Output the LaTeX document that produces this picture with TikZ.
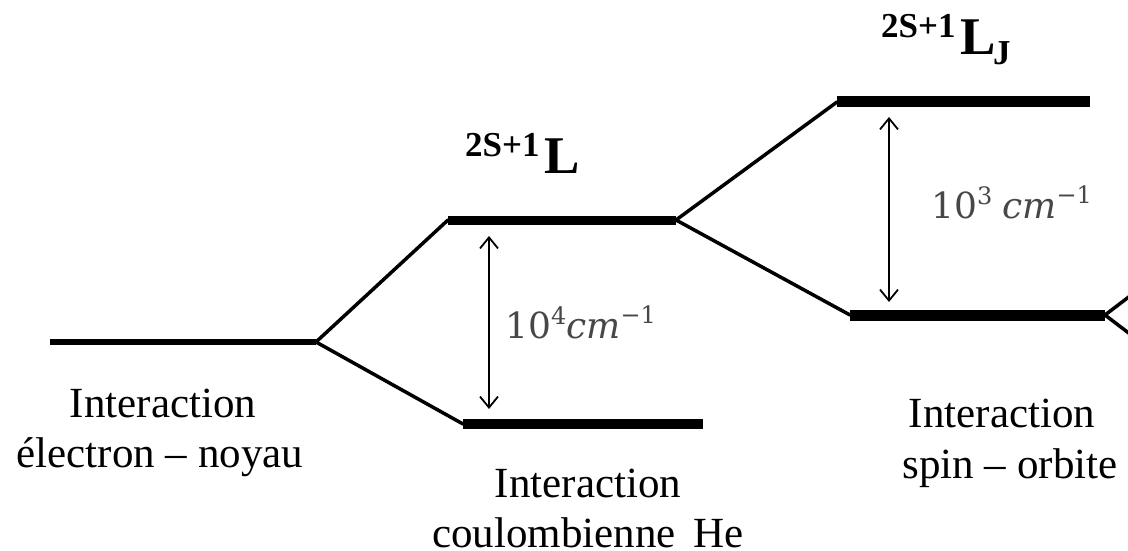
\documentclass[tikz,border=0pt]{standalone}
\usepackage{fontspec}
\setmainfont{Liberation Serif}
\newfontfamily\dvs{DejaVu Serif}
\usetikzlibrary{arrows.meta}
\begin{document}
\begin{tikzpicture}[x=1pt,y=-1pt,
  lvl/.style={line width=#1, line cap=butt},
  branch/.style={line width=3.5pt, line cap=round},
  gap/.style={line width=1.8pt, {Straight Barb[length=11pt,width=18pt]}-{Straight Barb[length=11pt,width=18pt]}},
  lab/.style={inner sep=0pt, anchor=base, font=\fontsize{43}{50}\selectfont},
  sup/.style={inner sep=0pt, anchor=base west, font=\fontsize{35}{35}\selectfont\bfseries},
  big/.style={inner sep=0pt, anchor=base west, font=\fontsize{53}{53}\selectfont\bfseries},
  num/.style={inner sep=0pt, anchor=base west, text=black!72, font=\dvs\fontsize{36}{36}\selectfont}]
\useasboundingbox (0,0) rectangle (1128,551);
\clip (0,0) rectangle (1128,551);
% level coordinates
\coordinate (g0) at (50,342);  \coordinate (g1) at (316,342);
\coordinate (a0) at (448,220); \coordinate (a1) at (676,220);
\coordinate (b0) at (463,424); \coordinate (b1) at (703,424);
\coordinate (c0) at (837,102); \coordinate (c1) at (1090,102);
\coordinate (d0) at (850,315); \coordinate (d1) at (1105,315);
\coordinate (e1) at (1130,296); \coordinate (e2) at (1130,334);
% levels
\draw[lvl=6pt] (g0) -- (g1);
\draw[lvl=9pt] (a0) -- (a1);
\draw[lvl=10pt] (b0) -- (b1);
\draw[lvl=11pt] (c0) -- (c1);
\draw[lvl=11pt] (d0) -- (d1);
% branches
\draw[branch] (g1) -- (a0);
\draw[branch] (g1) -- (b0);
\draw[branch] (a1) -- (c0);
\draw[branch] (a1) -- (d0);
\draw[branch] (d1) -- (e1);
\draw[branch] (d1) -- (e2);
% gaps
\coordinate (p1) at (489,236); \coordinate (q1) at (489,409);
\coordinate (p2) at (889,117); \coordinate (q2) at (889,302);
\draw[gap] (p1) -- (q1);
\draw[gap] (p2) -- (q2);
% gap labels
\node[num] (n4) at (505,338) {10\raisebox{14pt}{\fontsize{24}{24}\selectfont 4}\textit{cm}\raisebox{15pt}{\fontsize{24}{24}\selectfont −1}};
\node[num] (n3) at (931,218) {10\raisebox{14pt}{\fontsize{24}{24}\selectfont 3}\hspace{10pt}\textit{cm}\raisebox{15pt}{\fontsize{24}{24}\selectfont −1}};
% term symbols
\node[sup] (s1) at (465,156) {2S+1};
\node[big] (L1) at (544,173) {L};
\node[sup] (s2) at (881,38) {2S+1};
\node[big] (L2) at (960,55) {L};
\node[sup] (J2) at (993,65) {J};
% interaction labels
\node[lab] (t1a) at (163,417) {Interaction};
\node[lab] (t1b) at (160,467) {électron – noyau};
\node[lab] (t2a) at (588,497) {Interaction};
\node[lab] (t2b) at (588,547) {coulombienne\, He};
\node[lab] (t3a) at (1002,427) {Interaction};
\node[lab] (t3b) at (1010,478) {spin – orbite};
\end{tikzpicture}
\end{document}
